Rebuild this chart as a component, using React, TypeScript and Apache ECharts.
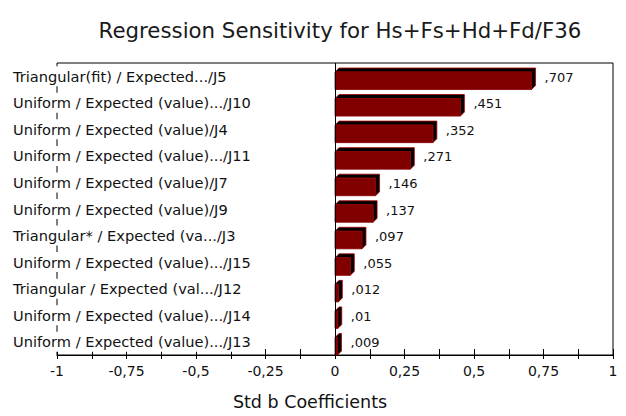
import React, { useEffect, useRef } from "react";
import * as echarts from "echarts";

const categories: string[] = [
  "Triangular(fit) / Expected.../J5",
  "Uniform / Expected (value).../J10",
  "Uniform / Expected (value)/J4",
  "Uniform / Expected (value).../J11",
  "Uniform / Expected (value)/J7",
  "Uniform / Expected (value)/J9",
  "Triangular* / Expected (va.../J3",
  "Uniform / Expected (value).../J15",
  "Triangular / Expected (val.../J12",
  "Uniform / Expected (value).../J14",
  "Uniform / Expected (value).../J13",
];
const values: number[] = [0.707, 0.451, 0.352, 0.271, 0.146, 0.137, 0.097, 0.055, 0.012, 0.01, 0.009];
const valueLabels: string[] = [",707", ",451", ",352", ",271", ",146", ",137", ",097", ",055", ",012", ",01", ",009"];
const titleText = "Regression Sensitivity for Hs+Fs+Hd+Fd/F36";
const axisTitle = "Std b Coefficients";

const FONT = "'DejaVu Sans', sans-serif";

function fmtTick(v: number): string {
  const r = Math.round(v * 1000) / 1000;
  if (Math.abs(Math.round(r * 4) - r * 4) > 1e-6) return "";
  return String(r).replace(".", ",");
}

export default function App() {
  const ref = useRef<HTMLDivElement>(null);
  useEffect(() => {
    if (!ref.current) return;
    const chart = echarts.init(ref.current, null, { renderer: "svg" });
    const data = values.map((v, i) => [v, i, i]);
    chart.setOption({
      animation: false,
      backgroundColor: "#ffffff",
      title: {
        text: titleText,
        left: 335,
        top: 15,
        textAlign: "center",
        textStyle: { fontFamily: FONT, fontSize: 21.3, fontWeight: "normal", color: "#1a1a1a" },
      },
      grid: {
        left: 57,
        right: 13,
        top: 63,
        bottom: 57,
        show: true,
        borderColor: "#000",
        borderWidth: 1,
        backgroundColor: "transparent",
      },
      xAxis: [
        {
          type: "value",
          min: -1,
          max: 1,
          interval: 0.125,
          position: "bottom",
          axisLine: { show: true, lineStyle: { color: "#000", width: 1 } },
          axisTick: { show: true, inside: false, length: 4, lineStyle: { color: "#000" } },
          splitLine: { show: false },
          axisLabel: {
            formatter: (v: number) => fmtTick(v),
            fontFamily: FONT,
            fontSize: 14,
            color: "#111",
            margin: 9,
          },
          name: axisTitle,
          nameLocation: "middle",
          nameGap: 38,
          nameTextStyle: { fontFamily: FONT, fontSize: 17.5, color: "#111", padding: [0, 50, 0, 0] },
        },
        {
          type: "value",
          min: -1,
          max: 1,
          interval: 0.125,
          position: "bottom",
          axisLine: { show: false },
          axisTick: { show: true, inside: true, length: 6, lineStyle: { color: "#000" } },
          splitLine: { show: false },
          axisLabel: { show: false },
        },
      ],
      yAxis: {
        type: "category",
        data: categories,
        inverse: true,
        axisLine: { show: false },
        axisTick: { show: false },
        splitLine: { show: false },
        axisLabel: {
          align: "left",
          margin: 44,
          fontFamily: FONT,
          fontSize: 14.6,
          color: "#111",
          backgroundColor: "#ffffff",
          padding: [3, 0, 2, 0],
          interval: 0,
        },
      },
      series: [
        {
          type: "custom",
          xAxisIndex: 0,
          yAxisIndex: 0,
          data,
          encode: { x: 0, y: 1 },
          renderItem: (params: any, api: any) => {
            const v = api.value(0);
            const idx = api.value(2);
            const p0 = api.coord([0, api.value(1)]);
            const p1 = api.coord([v, api.value(1)]);
            const band = api.size([0, 1])[1];
            const cy = p0[1];
            const d = 4;
            const x0 = p0[0];
            const x1 = p1[0];
            const totalTop = cy - band / 2 + 5;
            const fy0 = totalTop + d;
            const fy1 = cy + band / 2;
            return {
              type: "group",
              children: [
                {
                  type: "polygon",
                  shape: {
                    points: [
                      [x0, fy0],
                      [x0 + d, totalTop],
                      [x1 + d, totalTop],
                      [x1 + d, fy1 - d],
                      [x1, fy1],
                      [x1, fy0],
                    ],
                  },
                  style: { fill: "#000000", stroke: "#b00000", lineWidth: 0.8 },
                },
                {
                  type: "rect",
                  shape: { x: x0, y: fy0, width: Math.max(x1 - x0, 1), height: fy1 - fy0 },
                  style: { fill: "#800000", stroke: "#8a0000", lineWidth: 0.8 },
                },
                {
                  type: "text",
                  x: x1 + 13,
                  y: cy + 1,
                  style: {
                    text: valueLabels[idx],
                    fill: "#111",
                    fontFamily: FONT,
                    fontSize: 13,
                    align: "left",
                    verticalAlign: "middle",
                  },
                },
              ],
            };
          },
          markLine: {
            silent: true,
            symbol: "none",
            label: { show: false },
            lineStyle: { color: "#000", width: 1, type: "solid" },
            data: [{ xAxis: 0 }],
          },
          z: 3,
        },
      ],
    });
    return () => chart.dispose();
  }, []);
  return (
    <div
      ref={ref}
      style={{ position: "fixed", left: 0, top: 0, width: 626, height: 416, background: "#fff" }}
    />
  );
}
